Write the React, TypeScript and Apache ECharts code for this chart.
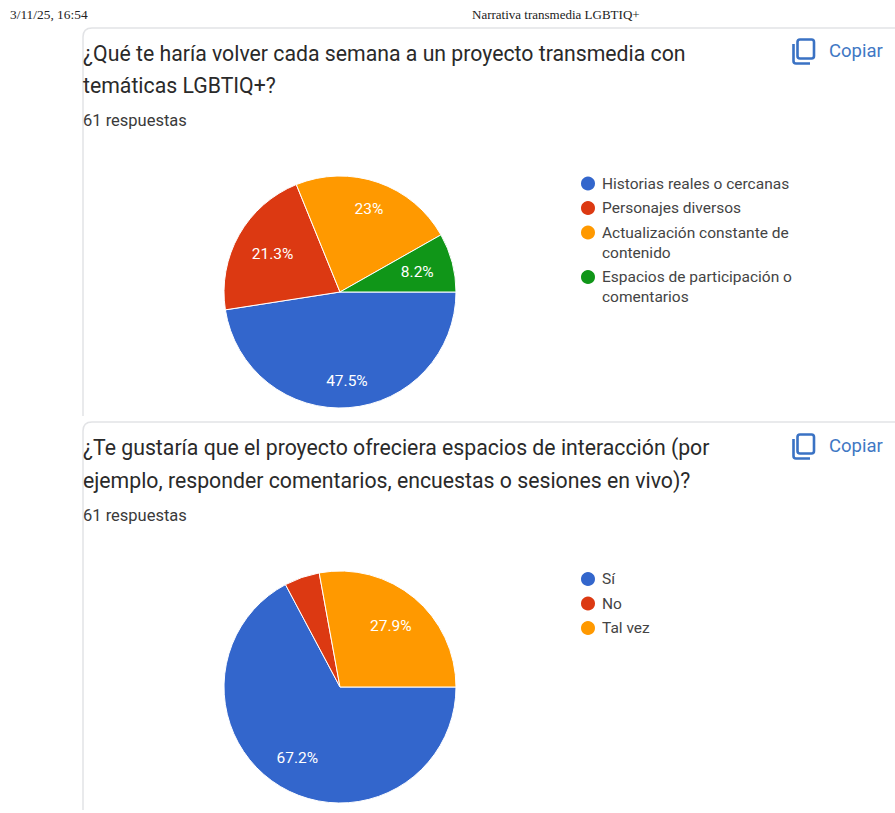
import React, { useEffect, useRef } from "react";
import * as echarts from "echarts";

const headerDate = "3/11/25, 16:54";
const headerTitle = "Narrativa transmedia LGBTIQ+";
const q1Lines = ["¿Qué te haría volver cada semana a un proyecto transmedia con", "temáticas LGBTIQ+?"];
const q2Lines = ["¿Te gustaría que el proyecto ofreciera espacios de interacción (por", "ejemplo, responder comentarios, encuestas o sesiones en vivo)?"];
const responses = "61 respuestas";
const copyLabel = "Copiar";

const q1Names = ["Historias reales o cercanas", "Personajes diversos", "Actualización constante de\ncontenido", "Espacios de participación o\ncomentarios"];
const q1Values = [29, 13, 14, 5];
const q1Colors = ["#3366cc", "#dc3912", "#ff9900", "#109618"];
const q2Names = ["Sí", "No", "Tal vez"];
const q2Values = [41, 3, 17];
const q2Colors = ["#3366cc", "#dc3912", "#ff9900"];

const FONT = "Roboto, Arial, sans-serif";
const TITLE_FONT = "Roboto";
const LEGEND_SIZE = 15.5;
const LEGEND_COLOR = "#444";

echarts.graphic.registerShape("card1", echarts.graphic.extendPath("M83 416 L83 37 Q83 28 92 28 L895 28", {}) as any);
echarts.graphic.registerShape("card2", echarts.graphic.extendPath("M83 810 L83 431 Q83 422 92 422 L895 422", {}) as any);
echarts.graphic.registerShape("copyFront", echarts.graphic.extendPath("M800 39.5 L811.5 39.5 Q814 39.5 814 42 L814 56 Q814 58.5 811.5 58.5 L800 58.5 Q797.5 58.5 797.5 56 L797.5 42 Q797.5 39.5 800 39.5 Z", {}) as any);
echarts.graphic.registerShape("copyBack", echarts.graphic.extendPath("M793.5 44 L793.5 61 Q793.5 63.5 796 63.5 L810 63.5", {}) as any);

function text(x: number, y: number, t: string, size: number, color: string, family = FONT, extra: any = {}) {
  return { type: "text", x, y, silent: true, style: { text: t, fontSize: size, fill: color, fontFamily: family, textVerticalAlign: "middle", verticalAlign: "middle", ...extra } };
}

function copyIcon(dy: number) {
  const st = { fill: "none", stroke: "#3a72c4", lineWidth: 2.6 };
  return [
    { type: "copyFront", x: 0, y: dy, silent: true, style: st },
    { type: "copyBack", x: 0, y: dy, silent: true, style: st },
    text(829, 51 + dy, copyLabel, 18.5, "#3f78c4", FONT),
  ];
}

function firstLine(name: string) {
  return name.split("\n")[0];
}

function legend(top: number, names: string[], gap: number) {
  return {
    orient: "vertical" as const,
    left: 579,
    top,
    itemWidth: 16,
    itemHeight: 16,
    itemGap: gap,
    icon: "circle",
    selectedMode: false,
    data: names,
    padding: 0,
    formatter: firstLine,
    textStyle: { fontFamily: FONT, fontSize: LEGEND_SIZE, color: LEGEND_COLOR, padding: [0, 0, 0, 1] },
  };
}

const labelScale: Record<string, number> = { "47.5": 1.47, "21.3": 1.27, "23": 1.44, "8.2": 1.31, "67.2": 1.36, "27.9": 1.3 };

function pie(cy: number, names: string[], values: number[], colors: string[], hide: string[]) {
  const cx = 340;
  return {
    type: "pie" as const,
    center: [cx, cy],
    radius: [0, 116],
    startAngle: 0,
    clockwise: true,
    percentPrecision: 1,
    avoidLabelOverlap: false,
    silent: true,
    itemStyle: { borderColor: "#fff", borderWidth: 1 },
    labelLine: { show: false },
    label: {
      show: true,
      position: "inside",
      color: "#fff",
      fontFamily: FONT,
      fontSize: 15.5,
      formatter: (p: any) => `${p.percent}%`,
    },
    labelLayout: (p: any) => {
      const r = p.labelRect;
      const mx = r.x + r.width / 2;
      const my = r.y + r.height / 2;
      const k = (labelScale[String(Math.round((values[p.dataIndex] / 61) * 1000) / 10)] ?? 1.4) - 1;
      return { dx: (mx - cx) * k, dy: (my - cy) * k };
    },
    data: names.map((name, i) => ({
      name,
      value: values[i],
      itemStyle: { color: colors[i] },
      label: { show: !hide.includes(name) },
    })),
  };
}

export default function App() {
  const ref = useRef<HTMLDivElement>(null);
  useEffect(() => {
    document.body.style.margin = "0";
    const chart = echarts.init(ref.current!, undefined, { renderer: "svg" });
    chart.setOption({
      animation: false,
      backgroundColor: "#fff",
      legend: [
        legend(174.5, q1Names.slice(0, 3), 6.5),
        legend(268, q1Names.slice(3), 0),
        legend(570, q2Names, 6.5),
      ],
      series: [
        pie(292, q1Names, q1Values, q1Colors, []),
        pie(687, q2Names, q2Values, q2Colors, ["No"]),
      ],
      graphic: [
        text(10, 14, headerDate, 13.4, "#222", "Liberation Serif"),
        text(472, 14, headerTitle, 13, "#222", "Liberation Serif"),
        { type: "card1", x: 0, y: 0, silent: true, style: { fill: "none", stroke: "#e2e3e6", lineWidth: 1.5 } },
        { type: "card2", x: 0, y: 0, silent: true, style: { fill: "none", stroke: "#e2e3e6", lineWidth: 1.5 } },
        text(83, 53, q1Lines[0], 21.25, "#2a2a2a", TITLE_FONT),
        text(83, 85, q1Lines[1], 21.25, "#2a2a2a", TITLE_FONT),
        text(83, 120, responses, 16.5, "#3a3a3a", FONT),
        text(83, 447, q2Lines[0], 21.25, "#2a2a2a", TITLE_FONT),
        text(83, 480, q2Lines[1], 21.25, "#2a2a2a", TITLE_FONT),
        text(83, 515, responses, 16.5, "#3a3a3a", FONT),
        ...copyIcon(0),
        ...copyIcon(395),
        text(602, 253, q1Names[2].split("\n")[1], LEGEND_SIZE, LEGEND_COLOR),
        text(602, 297, q1Names[3].split("\n")[1], LEGEND_SIZE, LEGEND_COLOR),
      ],
    });
    return () => chart.dispose();
  }, []);
  return <div ref={ref} style={{ position: "absolute", left: 0, top: 0, width: 895, height: 813 }} />;
}
